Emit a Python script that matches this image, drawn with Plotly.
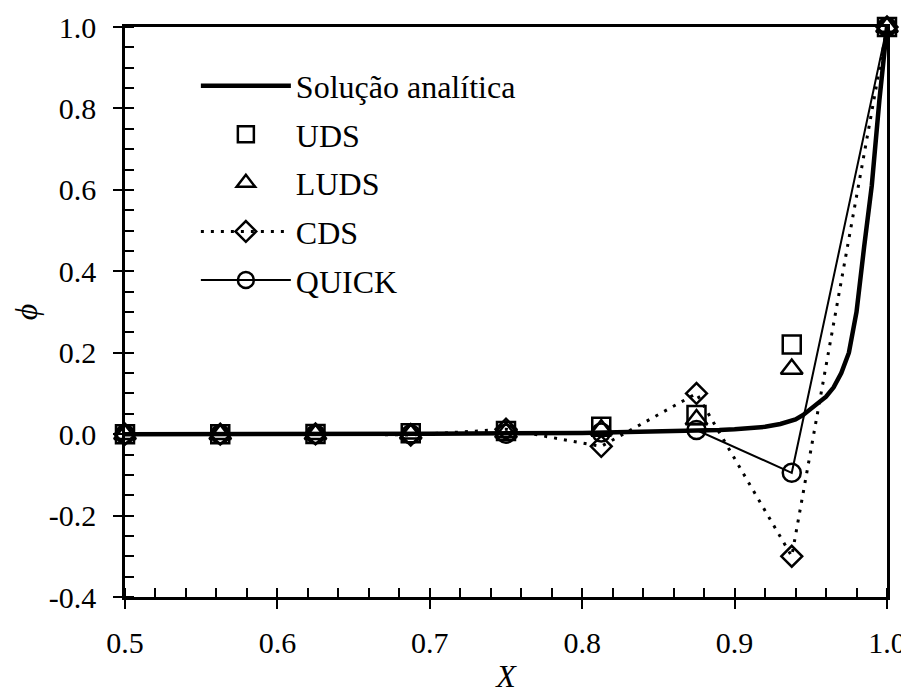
import plotly.graph_objects as go

# ---- data ----
x_nodes = [0.5, 0.5625, 0.625, 0.6875, 0.75, 0.8125, 0.875, 0.9375, 1.0]
uds = [0.0, 0.0, 0.0005, 0.002, 0.008, 0.018, 0.047, 0.22, 1.0]
luds = [0.0, 0.0, 0.0, 0.001, 0.004, 0.011, 0.036, 0.16, 1.0]
cds = [0.0, 0.0, 0.0005, -0.002, 0.012, -0.03, 0.10, -0.30, 1.0]
quick = [0.0, 0.0, 0.0, 0.0, 0.001, 0.004, 0.01, -0.095, 1.0]

x_exact = [0.5, 0.6, 0.7, 0.8, 0.85, 0.875, 0.89, 0.9, 0.91, 0.92, 0.93, 0.94,
           0.945, 0.95, 0.955, 0.96, 0.965, 0.97, 0.975, 0.98, 0.985, 0.99,
           0.995, 1.0]
phi_exact = [0.0, 0.0, 0.001, 0.003, 0.006, 0.008, 0.01, 0.012, 0.015, 0.018,
             0.025, 0.036, 0.047, 0.062, 0.075, 0.092, 0.115, 0.15, 0.2, 0.3,
             0.46, 0.61, 0.82, 1.0]

names = ["Solução analítica", "UDS", "LUDS", "CDS", "QUICK"]
x_ticks = [0.5, 0.6, 0.7, 0.8, 0.9, 1.0]
x_ticktext = ["0.5", "0.6", "0.7", "0.8", "0.9", "1.0"]
y_ticks = [-0.4, -0.2, 0.0, 0.2, 0.4, 0.6, 0.8, 1.0]
y_ticktext = ["-0.4", "-0.2", "0.0", "0.2", "0.4", "0.6", "0.8", "1.0"]

SERIF = "Liberation Serif, Times New Roman, serif"
fig = go.Figure()

fig.add_trace(go.Scatter(x=x_exact, y=phi_exact, mode="lines", name=names[0],
                         line=dict(color="black", width=4.5), legendgroup="a"))
fig.add_trace(go.Scatter(x=x_nodes, y=uds, mode="markers", name=names[1],
                         marker=dict(symbol="square-open", size=18, color="black",
                                     line=dict(width=2.5)),
                         cliponaxis=False, legendgroup="b"))
fig.add_trace(go.Scatter(x=x_nodes, y=luds, mode="markers", name=names[2],
                         marker=dict(symbol="triangle-up-open", size=19, color="black",
                                     line=dict(width=2.5)),
                         cliponaxis=False, legendgroup="c"))
fig.add_trace(go.Scatter(x=x_nodes, y=cds, mode="lines+markers", name=names[3],
                         line=dict(color="black", width=3, dash="3px,7px"),
                         marker=dict(symbol="diamond-open", size=16, color="black",
                                     line=dict(width=2.5)),
                         cliponaxis=False, legendgroup="d"))
fig.add_trace(go.Scatter(x=x_nodes, y=quick, mode="lines+markers", name=names[4],
                         line=dict(color="black", width=2),
                         marker=dict(symbol="circle-open", size=18, color="black",
                                     line=dict(width=2.5)),
                         cliponaxis=False, legendgroup="e"))

tickfont = dict(family=SERIF, size=30, color="black")

fig.update_layout(
    width=901, height=686,
    margin=dict(l=117, r=22, t=19, b=97),
    paper_bgcolor="white", plot_bgcolor="white",
    showlegend=True,
    legend=dict(x=0.093, y=0.945, xanchor="left", yanchor="top",
                bgcolor="rgba(0,0,0,0)", itemwidth=90, tracegroupgap=4,
                font=dict(family=SERIF, size=32, color="black")),
    xaxis=dict(range=[0.5, 1.0], tickvals=x_ticks, ticktext=x_ticktext,
               ticks="outside", ticklen=9, tickwidth=2, tickcolor="black",
               showline=True, linewidth=2.5, linecolor="black", mirror=True,
               showgrid=False, zeroline=False, tickfont=tickfont,
               ticklabelstandoff=8, automargin=False, ticklabeloverflow="allow",
               minor=dict(dtick=0.02, tick0=0.5, ticks="inside", ticklen=9,
                          tickwidth=2, tickcolor="black", showgrid=False),
               title=dict(text="<i>X</i>", font=dict(family=SERIF, size=32, color="black"),
                          standoff=12)),
    yaxis=dict(range=[-0.4, 1.0], tickvals=y_ticks, ticktext=y_ticktext,
               ticks="outside", ticklen=9, tickwidth=2, tickcolor="black",
               showline=True, linewidth=2.5, linecolor="black", mirror=True,
               showgrid=False, zeroline=False, tickfont=tickfont,
               ticklabelstandoff=11, automargin=False, ticklabeloverflow="allow",
               minor=dict(dtick=0.05, tick0=0.0, ticks="inside", ticklen=9,
                          tickwidth=2, tickcolor="black", showgrid=False),
               title=dict(text="<i>ϕ</i>", font=dict(family=SERIF, size=32, color="black"),
                          standoff=14)),
    xaxis2=dict(range=[0.5, 1.0], overlaying="x", anchor="y", side="bottom",
                tickvals=x_ticks, ticks="inside", ticklen=8, tickwidth=2,
                tickcolor="black", showticklabels=False, showline=False,
                showgrid=False, zeroline=False),
    yaxis2=dict(range=[-0.4, 1.0], overlaying="y", anchor="x", side="left",
                tickvals=y_ticks, ticks="inside", ticklen=8, tickwidth=2,
                tickcolor="black", showticklabels=False, showline=False,
                showgrid=False, zeroline=False),
)

fig.write_html("out.html")
